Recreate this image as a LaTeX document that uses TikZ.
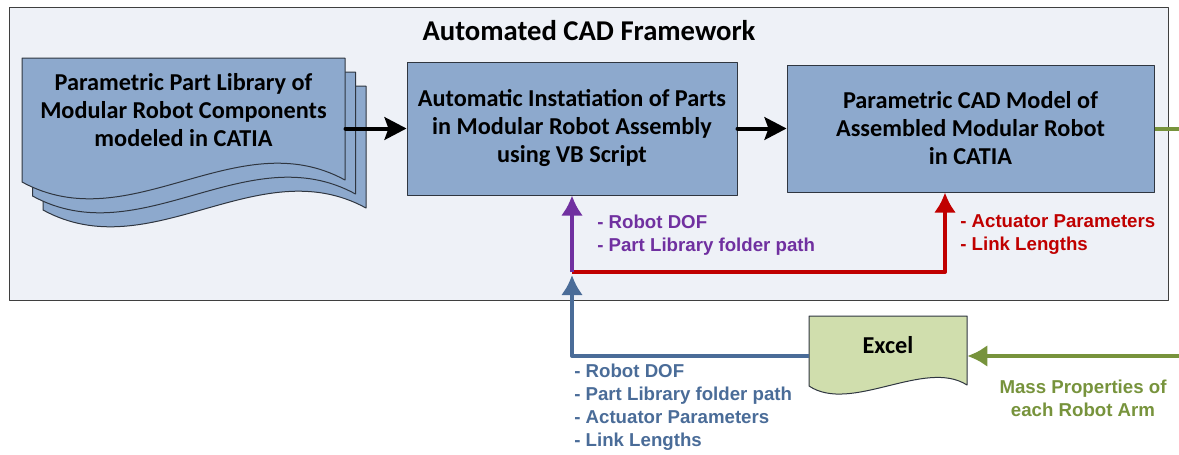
\documentclass[tikz,border=0pt]{standalone}
\usepackage{fontspec}
\setmainfont{Carlito}
\newfontfamily\labelfont{Liberation Sans}
\usepackage{tikz}
\usetikzlibrary{positioning,arrows.meta}

\definecolor{frameface}{HTML}{EEF1F7}
\definecolor{frameedge}{HTML}{3F3F3F}
\definecolor{boxface}{HTML}{8DA9CD}
\definecolor{boxedge}{HTML}{2F3640}
\definecolor{excelface}{HTML}{D0DEAD}
\definecolor{flowpurple}{HTML}{7030A0}
\definecolor{flowred}{HTML}{C00000}
\definecolor{flowblue}{HTML}{4A6C98}
\definecolor{flowgreen}{HTML}{77933C}

\begin{document}
\begin{tikzpicture}[x=0.75pt,y=-0.75pt,line join=round,
    block/.style={draw=boxedge,fill=boxface,line width=0.75pt,inner sep=0pt,
      align=center,font=\fontsize{18.2}{21}\selectfont\bfseries},
    sheet/.style={draw=boxedge,fill=boxface,line width=0.75pt},
    lbl/.style={inner sep=0pt,font=\labelfont\fontsize{14}{17.25}\selectfont\bfseries},
    flow/.style={line width=3pt},
    blackflow/.style={flow,line cap=round,-{Stealth[length=16.5pt,width=17pt,inset=3pt]}},
    colflow/.style={flow,-{Latex[length=15pt,width=16.5pt]}}]
    \useasboundingbox (0,0) rectangle (1179,454);

    % framework frame
    \draw[draw=frameedge,fill=frameface,line width=0.75pt] (9,7) rectangle (1168,300);
    \node[font=\fontsize{21.5}{24}\selectfont\bfseries] (T) at (589,31) {Automated CAD Framework};

    % stacked part library sheets
    \foreach \s in {28,14,0}
      \draw[sheet,shift={(0.75*\s,\s)}] (22,58) -- (345,58) -- (345,180)
        .. controls (237,121) and (130,241) .. (22,182) -- cycle;

    \node[block,draw=none,fill=none,minimum width=242.25pt] (A) at (183.5,110)
      {Parametric Part Library of\\ Modular Robot Components\\ modeled in CATIA};
    \node[block,minimum width=247.5pt,minimum height=99.75pt] (B) at (572,128.5)
      {Automatic Instatiation of Parts\\ in Modular Robot Assembly\\ using VB Script};
    \node[block,minimum width=275.25pt,minimum height=95.25pt] (C) [right=36.75pt of B]
      {Parametric CAD Model of\\ Assembled Modular Robot\\ in CATIA};

    % excel sheet
    \draw[draw=boxedge,fill=excelface,line width=0.75pt] (809,316) -- (967,316) -- (967,385)
      .. controls (925,358) and (851,414) .. (809,386) -- cycle;
    \node[minimum width=118.5pt,minimum height=60pt,inner sep=0pt] (D) at (888,356) {};
    \node[font=\fontsize{18.2}{21}\selectfont\bfseries] (E) at (888,345) {Excel};

    \coordinate (J) at (572,272);
    \coordinate (K) at (945,272);
    \coordinate (G1) at (1179,128.5);
    \coordinate (G2) at (1179,356);

    % paths inside the framework
    \draw[blackflow] (A.east |- B.west) -- (B.west);
    \draw[blackflow] (B.east) -- (C.west);
    \draw[colflow,flowred] (J) -- (K) -- (K |- C.south);
    \draw[colflow,flowpurple] (J) -- (B.south);
    \draw[flow,flowgreen] (C.east) -- (G1);

    % paths through excel
    \draw[colflow,flowblue,shorten >=2.25pt] (D.west) -| (J);
    \draw[colflow,flowgreen] (G2) -- (D.east);

    % labels
    \node[lbl,text=flowpurple,align=left,anchor=west] (P) at (597,235.5)
      {- Robot DOF\\ - Part Library folder path};
    \node[lbl,text=flowred,align=left,anchor=west] (R) at (960,234.5)
      {- Actuator Parameters\\ - Link Lengths};
    \node[lbl,text=flowblue,align=left,anchor=west] (L) at (574,407.5)
      {- Robot DOF\\ - Part Library folder path\\ - Actuator Parameters\\ - Link Lengths};
    \node[lbl,text=flowgreen,align=center] (M) at (1083,398)
      {Mass Properties of\\ each Robot Arm};
  \end{tikzpicture}
\end{document}
